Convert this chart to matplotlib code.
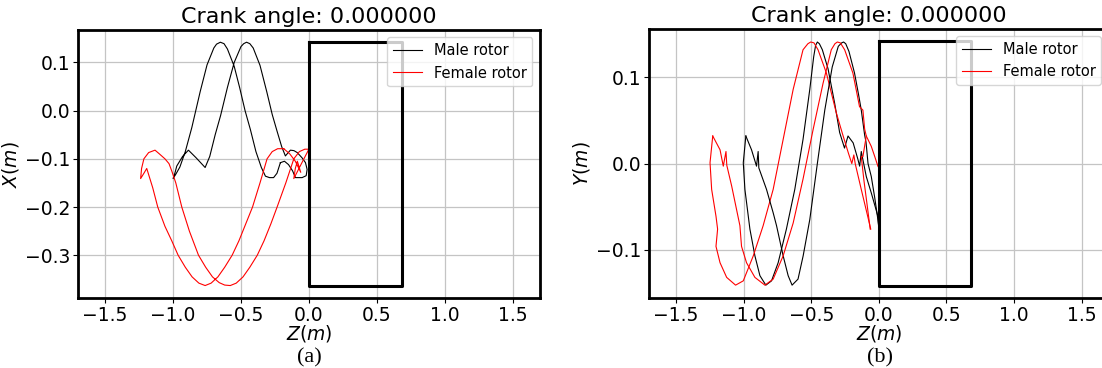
import matplotlib
matplotlib.use("Agg")
import matplotlib.pyplot as plt

# Trajetórias (Z em m, X/Y em m)
title = "Crank angle: 0.000000"
labels = ["Male rotor", "Female rotor"]

# painel (a): plano Z-X
male_zx_z = [-0.21, -0.235, -0.26, -0.29, -0.32, -0.35, -0.39, -0.431, -0.47, -0.51, -0.55, -0.60,
             -0.625, -0.652, -0.68, -0.70, -0.75, -0.80, -0.862, -0.91, -0.95, -0.98, -1.0, -0.985,
             -0.973, -0.93, -0.887, -0.83, -0.764, -0.73, -0.69, -0.65, -0.60, -0.55, -0.50, -0.48,
             -0.459, -0.435, -0.41, -0.36, -0.31, -0.27, -0.234, -0.20, -0.173, -0.155, -0.136, -0.11,
             -0.086, -0.05, -0.025, -0.013, -0.02, -0.05, -0.099, -0.12, -0.15, -0.18, -0.21]
male_zx_x = [-0.108, -0.13, -0.139, -0.139, -0.136, -0.118, -0.085, -0.039, 0.0, 0.048, 0.092, 0.128,
             0.139, 0.142, 0.138, 0.130, 0.095, 0.04, -0.035, -0.085, -0.117, -0.132, -0.141, -0.128,
             -0.115, -0.095, -0.082, -0.098, -0.118, -0.095, -0.05, -0.01, 0.048, 0.10, 0.133, 0.139,
             0.142, 0.139, 0.13, 0.094, 0.039, -0.008, -0.043, -0.075, -0.094, -0.088, -0.082, -0.083,
             -0.087, -0.098, -0.108, -0.122, -0.135, -0.139, -0.139, -0.125, -0.112, -0.105, -0.108]

female_zx_z = [-0.185, -0.23, -0.27, -0.308, -0.36, -0.415, -0.465, -0.515, -0.565, -0.62, -0.67,
               -0.72, -0.764, -0.81, -0.86, -0.91, -0.963, -1.01, -1.06, -1.113, -1.15, -1.194,
               -1.215, -1.239, -1.232, -1.215, -1.18, -1.133, -1.10, -1.06, -1.03, -1.01, -0.98,
               -0.936, -0.88, -0.813, -0.76, -0.71, -0.66, -0.62, -0.579, -0.535, -0.485, -0.435,
               -0.38, -0.33, -0.28, -0.234, -0.17, -0.111, -0.07, -0.03, 0.0, -0.055, -0.111, -0.10,
               -0.085, -0.06, -0.10, -0.14, -0.185]
female_zx_x = [-0.079, -0.079, -0.085, -0.10, -0.15, -0.20, -0.235, -0.27, -0.30, -0.325, -0.345,
               -0.358, -0.363, -0.358, -0.345, -0.325, -0.30, -0.27, -0.24, -0.20, -0.16, -0.12,
               -0.13, -0.141, -0.12, -0.10, -0.087, -0.082, -0.09, -0.10, -0.11, -0.125, -0.15,
               -0.20, -0.25, -0.30, -0.325, -0.345, -0.357, -0.362, -0.363, -0.358, -0.345, -0.325,
               -0.30, -0.27, -0.235, -0.20, -0.15, -0.10, -0.085, -0.08, -0.08, -0.11, -0.141, -0.12,
               -0.105, -0.128, -0.105, -0.09, -0.079]

# painel (b): plano Z-Y
male_zy1_z = [-0.984, -1.003, -0.991, -0.966, -0.954, -0.917, -0.88, -0.836, -0.794, -0.745, -0.684,
              -0.622, -0.561, -0.511, -0.482, -0.468, -0.455, -0.44, -0.418, -0.376, -0.327, -0.29,
              -0.254, -0.228, -0.19, -0.155, -0.142, -0.13, -0.093, -0.056, -0.007, 0.0]
male_zy1_y = [0.032, 0.001, -0.03, -0.061, -0.076, -0.107, -0.13, -0.141, -0.136, -0.115, -0.076,
              -0.03, 0.028, 0.086, 0.124, 0.137, 0.141, 0.139, 0.132, 0.11, 0.07, 0.036,
              0.018, 0.032, 0.024, 0.005, -0.003, 0.014, -0.015, -0.034, -0.061, -0.075]
male_zy2_z = [-0.984, -0.942, -0.905, -0.893, -0.888, -0.831, -0.782, -0.757, -0.708, -0.671, -0.642,
              -0.598, -0.56, -0.511, -0.455, -0.40, -0.345, -0.30, -0.275, -0.261, -0.245, -0.221,
              -0.18, -0.15, -0.13, -0.105, -0.095, -0.08, -0.056, -0.03, -0.007, 0.0]
male_zy2_y = [0.032, 0.016, -0.003, 0.014, -0.005, -0.03, -0.057, -0.072, -0.107, -0.13, -0.141,
              -0.134, -0.107, -0.065, 0.0, 0.062, 0.112, 0.136, 0.140, 0.141, 0.139, 0.13,
              0.105, 0.08, 0.062, 0.033, 0.025, 0.0, -0.015, -0.04, -0.065, -0.075]

female_zy1_z = [-1.229, -1.249, -1.237, -1.205, -1.193, -1.205, -1.175, -1.126, -1.06, -1.003, -0.929,
                -0.856, -0.782, -0.708, -0.634, -0.561, -0.525, -0.504, -0.48, -0.45, -0.388, -0.315,
                -0.27, -0.225, -0.2, -0.185, -0.175, -0.13, -0.069, -0.06]
female_zy1_y = [0.032, 0.001, -0.03, -0.061, -0.076, -0.096, -0.115, -0.132, -0.141, -0.136, -0.107,
                -0.072, -0.03, 0.028, 0.086, 0.132, 0.139, 0.141, 0.140, 0.132, 0.105, 0.059,
                0.035, 0.012, 0.0, 0.01, 0.0, -0.03, -0.07, -0.076]
female_zy2_z = [-1.229, -1.175, -1.151, -1.131, -1.125, -1.089, -1.028, -1.016, -0.979, -0.917, -0.843,
                -0.782, -0.708, -0.634, -0.561, -0.487, -0.413, -0.352, -0.325, -0.307, -0.285,
                -0.253, -0.192, -0.143, -0.118, -0.105, -0.093, -0.056, -0.03, -0.007, 0.0]
female_zy2_y = [0.032, 0.016, -0.003, 0.014, -0.002, -0.026, -0.072, -0.096, -0.115, -0.132, -0.141,
                -0.134, -0.107, -0.069, -0.018, 0.039, 0.093, 0.132, 0.139, 0.141, 0.140,
                0.132, 0.105, 0.066, 0.062, 0.04, 0.032, 0.02, 0.008, -0.003, -0.005]
female_zy3_z = [-0.093, -0.118, -0.13, -0.11, -0.085, -0.064]
female_zy3_y = [0.032, 0.008, 0.008, -0.02, -0.05, -0.076]

# carcaça (retângulo)
box_z = [0.0, 0.685, 0.685, 0.0, 0.0]
box_x = [0.142, 0.142, -0.364, -0.364, 0.142]
box_y = [0.142, 0.142, -0.142, -0.142, 0.142]

xticks = [-1.5, -1.0, -0.5, 0.0, 0.5, 1.0, 1.5]

plt.rcParams['font.family'] = 'DejaVu Sans'
fig = plt.figure(figsize=(11.02, 3.68), dpi=100)
ax1 = fig.add_axes([0.0708, 0.190, 0.419, 0.728])
ax2 = fig.add_axes([0.589, 0.190, 0.417, 0.731])

def estilo(ax, ylabel, yticks, ylim):
    ax.set_xlim(-1.7, 1.7)
    ax.set_ylim(*ylim)
    ax.set_xticks(xticks)
    ax.set_yticks(yticks)
    ax.tick_params(labelsize=13.5, pad=2)
    ax.grid(True, color='#c4c4c4', linewidth=0.9)
    for s in ax.spines.values():
        s.set_linewidth(2)
    ax.set_title(title, fontsize=16, pad=5)
    ax.set_xlabel(r'$Z(m)$', fontsize=13.5, labelpad=-1)
    ax.set_ylabel(ylabel, fontsize=13.5, labelpad=3)
    ax.legend(fontsize=10.5, loc='upper right')

lw = 0.8
ax1.plot(male_zx_z, male_zx_x, color='k', lw=lw, label=labels[0])
ax1.plot(female_zx_z, female_zx_x, color='r', lw=lw, label=labels[1])
ax1.plot(box_z, box_x, color='k', lw=2.2)
estilo(ax1, r'$X(m)$', [-0.3, -0.2, -0.1, 0.0, 0.1], (-0.389, 0.167))

ax2.plot(male_zy1_z, male_zy1_y, color='k', lw=lw, label=labels[0])
ax2.plot(female_zy1_z, female_zy1_y, color='r', lw=lw, label=labels[1])
ax2.plot(male_zy2_z, male_zy2_y, color='k', lw=lw)
ax2.plot(female_zy2_z, female_zy2_y, color='r', lw=lw)
ax2.plot(female_zy3_z, female_zy3_y, color='r', lw=lw)
ax2.plot(box_z, box_y, color='k', lw=2.2)
estilo(ax2, r'$Y(m)$', [-0.1, 0.0, 0.1], (-0.156, 0.156))

fig.text(0.281, 0.002, '(a)', fontsize=16, family='Liberation Serif', ha='center', va='bottom')
fig.text(0.799, 0.002, '(b)', fontsize=16, family='Liberation Serif', ha='center', va='bottom')

plt.savefig('out.png', dpi=100)
